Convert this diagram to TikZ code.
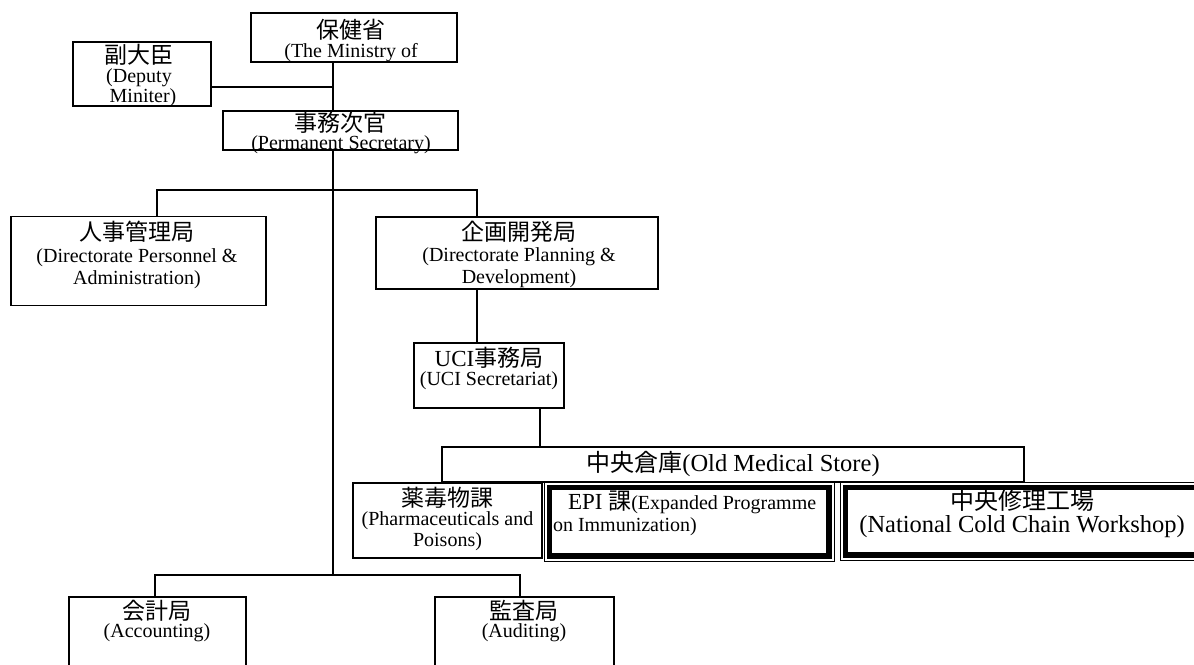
\documentclass[tikz,border=0pt]{standalone}
\usepackage{fontspec}
\setmainfont{Liberation Serif}
\newfontfamily\cjkfont{Noto Sans CJK JP}
\newcommand\cjkt[1]{{\cjkfont\fontsize{23}{28}\selectfont #1}}
\newcommand\cjkT[1]{{\cjkfont\fontsize{24}{28}\selectfont #1}}
\newcommand\ens[1]{{\fontsize{20}{24}\selectfont #1}}
\newcommand\enL[1]{{\fontsize{24.5}{28}\selectfont #1}}
\newcommand\enB[1]{{\fontsize{23}{27}\selectfont #1}}
\begin{document}
\begin{tikzpicture}[x=1pt,y=-1pt,
  box/.style={draw, rectangle, line width=1.3pt, inner sep=0pt, outer sep=0pt, fill=white},
  thinbox/.style={draw, rectangle, line width=1pt, inner sep=0pt, outer sep=0pt, fill=white},
  thickbox/.style={draw, rectangle, line width=5.5pt, inner sep=0pt, outer sep=0pt},
  conn/.style={line width=1.3pt},
  txt/.style={inner sep=0pt, outer sep=0pt}]
\useasboundingbox[fill=white] (0,0) rectangle (1194,664);

\coordinate (j1) at (333,87);
\coordinate (tr) at (333,575);
\coordinate (b1) at (157,190);
\coordinate (b2) at (477,190);
\coordinate (u1) at (540,447);
\coordinate (c1) at (155,575);
\coordinate (c2) at (520,575);

% boxes
\node[box, minimum width=206, minimum height=49] (min) at (354,37.5) {};
\node[box, minimum width=138, minimum height=64] (dep) at (142,74) {};
\node[box, minimum width=235, minimum height=39] (ps) at (340.5,130.5) {};
\node[box, minimum width=255, minimum height=89] (per) at (138.5,261) {};
\node[box, minimum width=282, minimum height=72] (pla) at (517,253) {};
\node[box, minimum width=150, minimum height=65] (uci) at (489,375.5) {};
\node[box, minimum width=582, minimum height=35] (store) at (733,464.5) {};
\node[box, minimum width=189, minimum height=75] (pha) at (447.5,520.5) {};
\node[thinbox, minimum width=290, minimum height=79] (epi) at (689,521.5) {};
\node[thickbox, minimum width=279.5, minimum height=68.5] (epiin) at (689,521.5) {};
\node[thinbox, minimum width=375, minimum height=78] (ncc) at (1027.5,521) {};
\node[thickbox, minimum width=364.5, minimum height=67.5] (nccin) at (1027.5,521) {};
\node[box, minimum width=177, minimum height=93] (acc) at (157.5,643.5) {};
\node[box, minimum width=179, minimum height=93] (aud) at (524.5,643.5) {};

% connectors
\draw[conn] (dep.east |- j1) -- (j1);
\draw[conn] (min.south -| j1) -- (ps.north -| j1);
\draw[conn] (ps.south -| tr) -- (tr);
\draw[conn] (per.north -| b1) -- (b1) -- (b2) -- (pla.north -| b2);
\draw[conn] (pla.south -| b2) -- (uci.north -| b2);
\draw[conn] (uci.south -| u1) -- (store.north -| u1);
\draw[conn] (acc.north -| c1) -- (c1) -- (c2) -- (aud.north -| c2);

% texts
\node[txt] (min-t1) at (351,30) {\cjkt{保健省}};
\node[txt] (min-t2) at (351,53) {\ens{(The Ministry of}};
\node[txt] (dep-t1) at (139,55) {\cjkt{副大臣}};
\node[txt] (dep-t2) at (139,78) {\ens{(Deputy}};
\node[txt] (dep-t3) at (143,98) {\ens{Miniter)}};
\node[txt] (ps-t1) at (340,123) {\cjkt{事務次官}};
\node[txt] (ps-t2) at (341,145) {\ens{(Permanent Secretary)}};
\node[txt] (per-t1) at (137,232) {\cjkt{人事管理局}};
\node[txt] (per-t2) at (137,258) {\ens{(Directorate Personnel \&}};
\node[txt] (per-t3) at (137,280) {\ens{Administration)}};
\node[txt] (pla-t1) at (519,232) {\cjkt{企画開発局}};
\node[txt] (pla-t2) at (519,257) {\ens{(Directorate Planning \&}};
\node[txt] (pla-t3) at (519,279) {\ens{Development)}};
\node[txt] (uci-t1) at (489,358) {\enB{UCI}\cjkt{事務局}};
\node[txt] (uci-t2) at (489,381) {\ens{(UCI Secretariat)}};
\node[txt] (store-t) at (733,464) {\cjkT{中央倉庫}\enL{(Old Medical Store)}};
\node[txt] (pha-t1) at (447.5,498) {\cjkt{薬毒物課}};
\node[txt] (pha-t2) at (447.5,521) {\ens{(Pharmaceuticals and}};
\node[txt] (pha-t3) at (447.5,542) {\ens{Poisons)}};
\node[txt, anchor=west] (epi-t1) at (568,502) {\enB{EPI }\cjkt{課}\ens{(Expanded Programme}};
\node[txt, anchor=west] (epi-t2) at (553,527) {\ens{on Immunization)}};
\node[txt] (ncc-t1) at (1022,500) {\cjkT{中央修理工場}};
\node[txt] (ncc-t2) at (1022,527) {\enL{(National Cold Chain Workshop)}};
\node[txt] (acc-t1) at (157,611) {\cjkt{会計局}};
\node[txt] (acc-t2) at (157,633) {\ens{(Accounting)}};
\node[txt] (aud-t1) at (524,611) {\cjkt{監査局}};
\node[txt] (aud-t2) at (524,633) {\ens{(Auditing)}};
\end{tikzpicture}
\end{document}
